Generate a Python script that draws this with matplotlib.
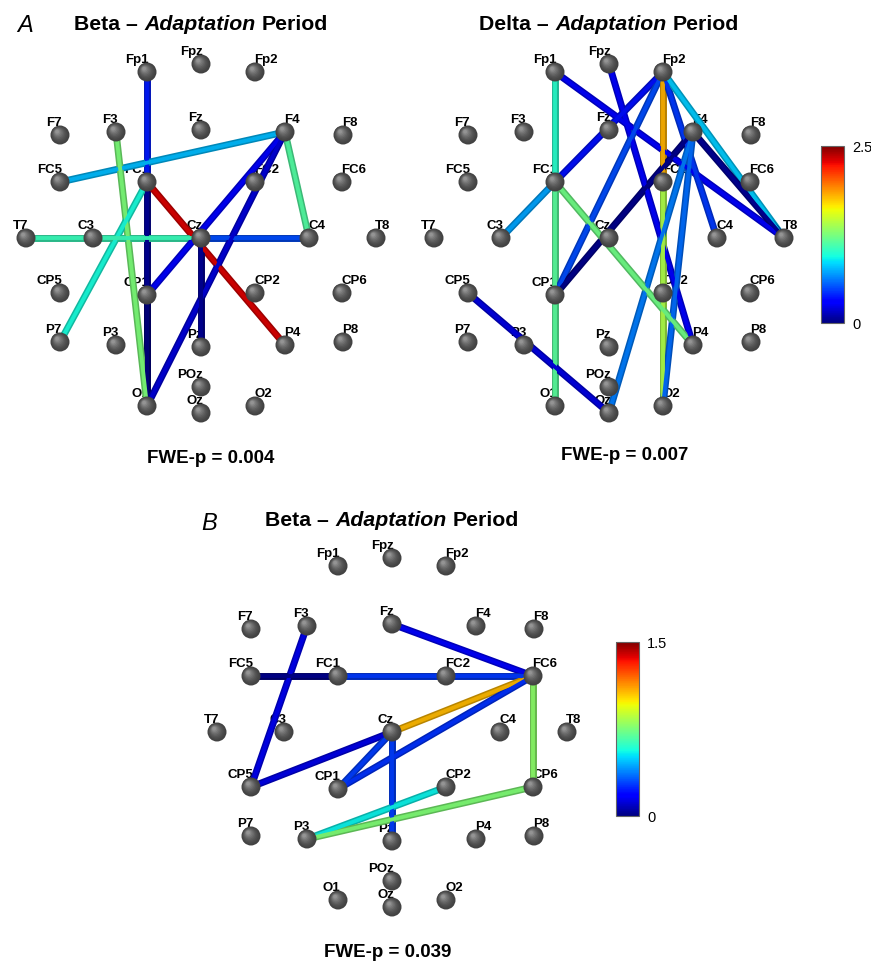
import matplotlib
matplotlib.use("Agg")
import matplotlib.pyplot as plt
import matplotlib.colors as mcolors
from matplotlib.patches import Circle
import numpy as np

# electrode montage (flat layout, Cz at origin, y up)
electrodes = ["Fp1", "Fpz", "Fp2",
              "F7", "F3", "Fz", "F4", "F8",
              "FC5", "FC1", "FC2", "FC6",
              "T7", "C3", "Cz", "C4", "T8",
              "CP5", "CP1", "CP2", "CP6",
              "P7", "P3", "Pz", "P4", "P8",
              "POz", "O1", "Oz", "O2"]
elec_x = [-54, 0, 54,
          -141, -85, 0, 84, 142,
          -141, -54, 54, 141,
          -175, -108, 0, 108, 175,
          -141, -54, 54, 141,
          -141, -85, 0, 84, 142,
          0, -54, 0, 54]
elec_y = [166, 174, 166,
          103, 106, 108, 106, 103,
          56, 56, 56, 56,
          0, 0, 0, 0, 0,
          -55, -57, -55, -55,
          -104, -107, -109, -107, -104,
          -149, -168, -175, -168]

# A: beta, adaptation period
beta_a_edges = [("Fp1", "FC1"), ("FC1", "O1"), ("CP1", "O1"), ("F4", "FC5"),
                ("F4", "C4"), ("F3", "O1"), ("FC1", "P7"), ("FC1", "P4"),
                ("T7", "Cz"), ("Cz", "C4"), ("F4", "CP1"), ("F4", "O1"),
                ("Cz", "Pz")]
beta_a_vals = [0.38, 0.05, 0.0, 0.78, 1.13, 1.25, 0.95, 2.3,
               1.05, 0.5, 0.3, 0.2, 0.05]

# A: delta, adaptation period
delta_a_edges = [("Fp1", "FC1"), ("FC1", "O1"), ("Fp1", "T8"), ("Fpz", "P4"),
                 ("Fp2", "FC1"), ("Fp2", "CP1"), ("Fp2", "FC2"), ("FC2", "O2"),
                 ("Fp2", "C4"), ("Fp2", "T8"), ("F4", "T8"), ("F4", "CP1"),
                 ("F4", "Oz"), ("F4", "O2"), ("FC1", "C3"), ("FC1", "P4"),
                 ("CP5", "Oz")]
delta_a_vals = [1.0, 1.15, 0.3, 0.3, 0.35, 0.5, 1.8, 1.4,
                0.45, 0.82, 0.05, 0.03, 0.62, 0.58, 0.72, 1.22, 0.22]

# B: beta, adaptation period
beta_b_edges = [("F3", "CP5"), ("Fz", "FC6"), ("FC5", "FC1"), ("FC1", "FC6"),
                ("FC6", "Cz"), ("FC6", "CP1"), ("FC6", "CP6"), ("Cz", "CP5"),
                ("Cz", "CP1"), ("Cz", "Pz"), ("CP2", "P3"), ("CP6", "P3")]
beta_b_vals = [0.15, 0.17, 0.02, 0.27, 1.07, 0.26, 0.78, 0.14,
               0.28, 0.28, 0.55, 0.76]

W, H = 871, 963
fig = plt.figure(figsize=(W / 100, H / 100), dpi=100)
fig.patch.set_facecolor("white")
FONT = "Liberation Sans"
pos = {n: (x, y) for n, x, y in zip(electrodes, elec_x, elec_y)}


def fx(px):
    return px / W


def fy(py):
    return 1 - py / H


def draw_sphere(ax, x, y, r=9.5):
    n = 9
    for i in range(n):
        t = i / (n - 1)
        rr = r * (1 - 0.8 * t)
        g = 0.26 + 0.32 * t ** 1.5
        ax.add_patch(Circle((x - 0.3 * r * t, y + 0.35 * r * t), rr,
                            facecolor=(g, g, g), edgecolor="none", zorder=5 + i * 0.01))


def draw_net(cx, cy, edges, vals, vmax, h=200):
    ax = fig.add_axes([fx(cx - h), fy(cy + h), 2 * h / W, 2 * h / H])
    ax.set_xlim(-h, h)
    ax.set_ylim(-h, h)
    ax.axis("off")
    cmap = plt.get_cmap("jet")
    norm = mcolors.Normalize(0, vmax)
    for (a, b), v in zip(edges, vals):
        xa, ya = pos[a]
        xb, yb = pos[b]
        c = np.array(cmap(norm(v))[:3])
        ax.plot([xa, xb], [ya, yb], color=c * 0.72, lw=5.0,
                solid_capstyle="butt", zorder=3)
        ax.plot([xa, xb], [ya, yb], color=c * 0.92, lw=2.8,
                solid_capstyle="butt", zorder=3.1)
    for n in electrodes:
        x, y = pos[n]
        if x > 0:
            ax.text(x - 1, y + 12, n, ha="left", va="center", fontsize=9.5,
                    fontweight="bold", family=FONT, zorder=1)
        else:
            ax.text(x + 2, y + 12, n, ha="right", va="center", fontsize=9.5,
                    fontweight="bold", family=FONT, zorder=1)
        draw_sphere(ax, x, y)
    return ax


def draw_title(cx, cy, band, size=15.3):
    pieces = [(band + " –", "normal"), ("Adaptation", "italic"), ("Period", "normal")]
    r = fig.canvas.get_renderer()
    texts = []
    for s, st in pieces:
        t = fig.text(0, fy(cy), s, fontsize=size, fontweight="bold", style=st,
                     family=FONT, va="center", ha="left")
        texts.append(t)
    widths = [t.get_window_extent(r).width for t in texts]
    gap = size * 100 / 72 * 0.28
    total = sum(widths) + gap * (len(widths) - 1)
    x = cx - total / 2
    for t, w in zip(texts, widths):
        t.set_x(fx(x))
        x += w + gap


def draw_cbar(x0, y0, x1, y1, vmax):
    cax = fig.add_axes([fx(x0), fy(y1), (x1 - x0) / W, (y1 - y0) / H])
    norm = mcolors.Normalize(0, vmax)
    cb = matplotlib.colorbar.ColorbarBase(cax, cmap=plt.get_cmap("jet"), norm=norm,
                                          ticks=[0, vmax])
    cb.ax.set_yticklabels(["0", f"{vmax:g}"], family=FONT, fontsize=10.5)
    cb.ax.tick_params(length=0, pad=6)
    cb.outline.set_edgecolor("#666666")
    cb.outline.set_linewidth(0.8)


draw_net(201, 238, beta_a_edges, beta_a_vals, 2.5)
draw_net(609, 238, delta_a_edges, delta_a_vals, 2.5)
draw_net(392, 732, beta_b_edges, beta_b_vals, 1.5)

draw_title(201, 25, "Beta")
draw_title(609, 25, "Delta")
draw_title(392, 521, "Beta")

fig.text(fx(25), fy(26), "A", fontsize=17, style="italic", family=FONT,
         ha="center", va="center")
fig.text(fx(209), fy(523), "B", fontsize=17, style="italic", family=FONT,
         ha="center", va="center")

for x, y, s in [(211, 458, "FWE-p = 0.004"), (625, 455, "FWE-p = 0.007"),
                (388, 952, "FWE-p = 0.039")]:
    fig.text(fx(x), fy(y), s, fontsize=13.5, fontweight="bold", family=FONT,
             ha="center", va="center")

draw_cbar(821, 146, 844, 323, 2.5)
draw_cbar(616, 642, 639, 816, 1.5)

fig.savefig("out.png", dpi=100, facecolor="white")
